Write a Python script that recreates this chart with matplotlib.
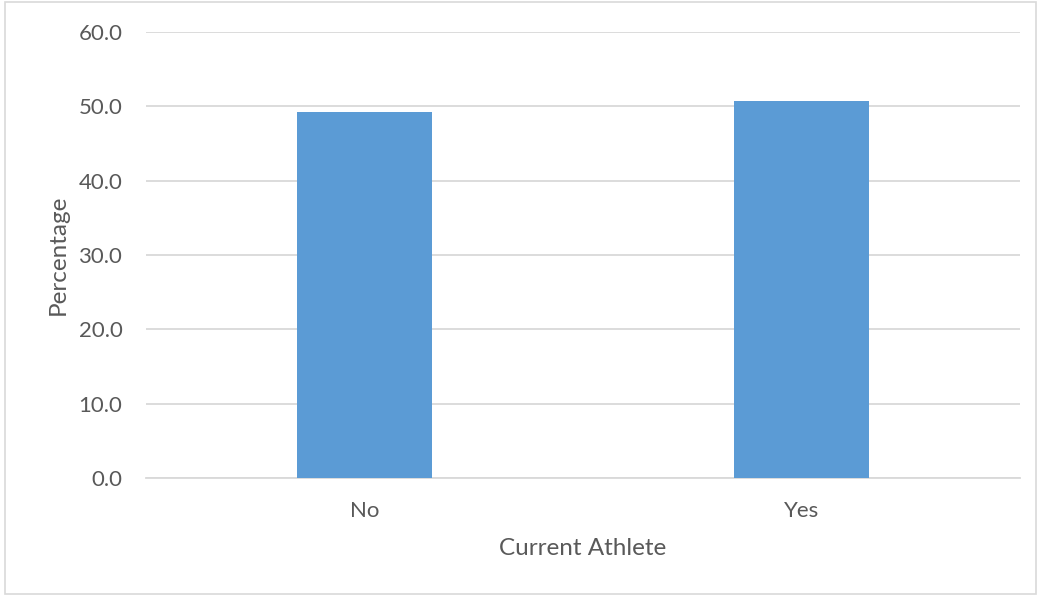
import matplotlib.pyplot as plt
from matplotlib.patches import Rectangle

categories = ["No", "Yes"]
percentages = [49.3, 50.7]
y_ticks = [0, 10, 20, 30, 40, 50, 60]

plt.rcParams['font.family'] = ['Lato', 'DejaVu Sans']

fig = plt.figure(figsize=(10.39, 5.96), dpi=100)
ax = fig.add_axes([146 / 1039, 1 - 478 / 596, 874 / 1039, 446 / 596])

x = range(len(categories))
ax.bar(x, percentages, width=0.311, color='#5b9bd5', zorder=3)

ax.set_xlim(-0.5, 1.5)
ax.set_ylim(0, 60)
ax.set_yticks(y_ticks)
ax.set_yticklabels([f"{v:.1f}" for v in y_ticks])
ax.set_xticks(list(x))
ax.set_xticklabels(categories)

ax.grid(axis='y', color='#d9d9d9', linewidth=1.3, zorder=0)
for side in ['top', 'right', 'left']:
    ax.spines[side].set_visible(False)
ax.spines['bottom'].set_color('#d9d9d9')
ax.spines['bottom'].set_linewidth(1.3)
ax.tick_params(axis='both', length=0, labelsize=16, labelcolor='#595959')
ax.tick_params(axis='y', pad=17)
ax.tick_params(axis='x', pad=16.5)

ax.set_xlabel("Current Athlete", fontsize=17.5, color='#595959', labelpad=12)
ax.set_ylabel("Percentage", fontsize=17.5, color='#595959', labelpad=7)

# light outline round the whole chart area
fig.patches.append(Rectangle((5 / 1039, 2 / 596), 1031 / 1039, 592 / 596,
                             transform=fig.transFigure, fill=False,
                             edgecolor='#d9d9d9', linewidth=1.2))

fig.savefig("out.png", dpi=100)
